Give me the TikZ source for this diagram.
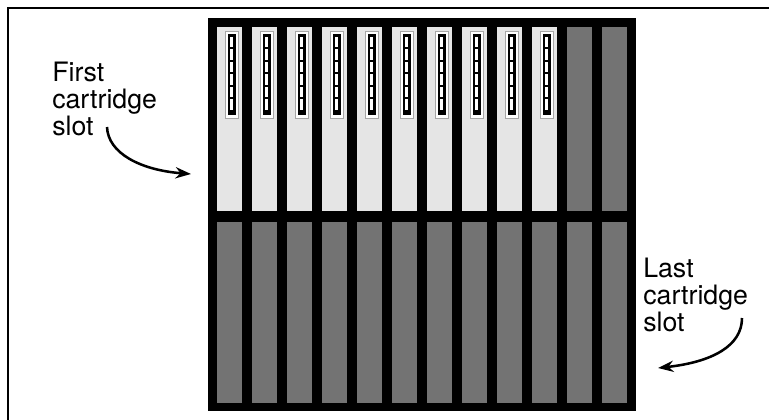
\documentclass[tikz,border=0pt]{standalone}
\usepackage{fontspec}
\setmainfont{TeX Gyre Heros}
\usetikzlibrary{arrows.meta}

\tikzset{
  frameline/.style={line width=1.6pt},
  emptycell/.style={fill=black!55},
  tapecell/.style={fill=black!10},
  tapelabel/.style={fill=white, draw=black!35, line width=0.4pt},
  callout/.style={align=left, anchor=base west, inner sep=0pt,
    font=\fontsize{19}{19.2}\selectfont},
  pointer/.style={line width=1.8pt, -{Stealth[length=11pt,width=8pt]}}
}

\begin{document}
\begin{tikzpicture}[x=0.025cm,y=-0.025cm]
  \useasboundingbox (0,0) rectangle (769,420);

  % outer frame, top and left edges
  \draw[frameline] (8,420) -- (8,8) -- (769,8);

  % the magazine panel
  \fill (208,18) rectangle (636,411);

  % lower row: all twelve slots empty
  \foreach \i in {0,...,11} {
    \fill[emptycell] (217+35*\i,222) rectangle ++(25,181);
  }

  % upper row: ten cartridges with their labels
  \foreach \i in {0,...,9} {
    \pgfmathsetmacro{\xl}{217+35*\i}
    \pgfmathsetmacro{\xc}{\xl+14.5}
    \fill[tapecell] (\xl,27) rectangle ++(25,184);
    \filldraw[tapelabel] (\xc-6.5,31) rectangle (\xc+6.5,118);
    \fill (\xc-4,34) rectangle (\xc+4,115);
    \foreach \k in {0,...,5}
      \fill[white] (\xc-1.2,37+12.5*\k) rectangle ++(2.4,10.5);
  }
  % and two empty slots at the end
  \foreach \i in {10,11}
    \fill[emptycell] (217+35*\i,27) rectangle ++(25,184);

  % callouts (base is the last line)
  \node[callout] (firstlbl) at (52,135) {First\\cartridge\\slot};
  \node[callout] (lastlbl) at (643,331) {Last\\cartridge\\slot};

  \coordinate (firstfrom) at (107,127);
  \coordinate (firstto) at (191,174);
  \draw[pointer] (firstfrom) .. controls (108,153) and (140,170) .. (firstto);

  \coordinate (lastfrom) at (742,318);
  \coordinate (lastto) at (658,368);
  \draw[pointer] (lastfrom) .. controls (742,346) and (712,362) .. (lastto);
\end{tikzpicture}
\end{document}
